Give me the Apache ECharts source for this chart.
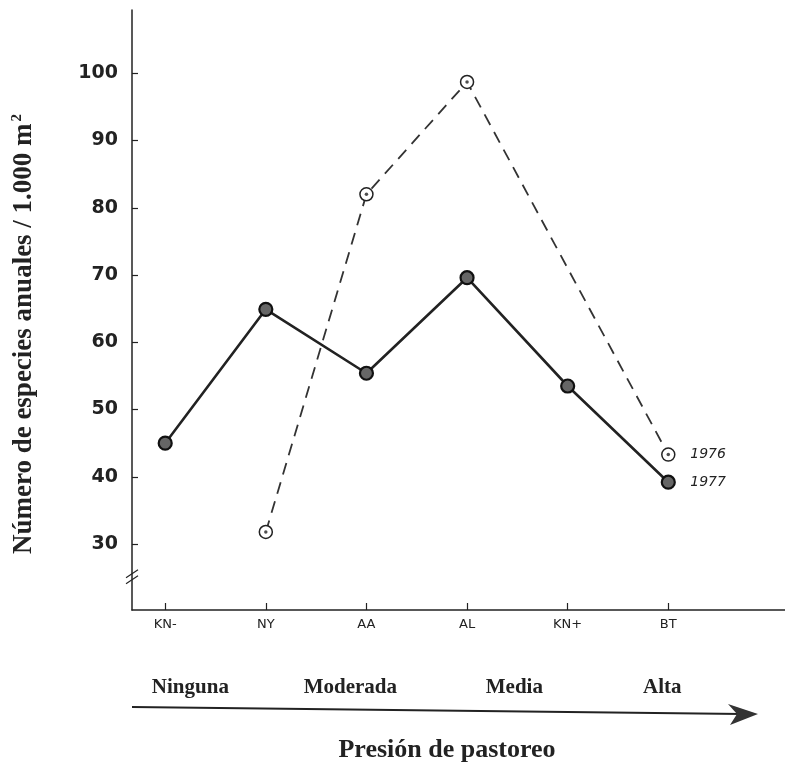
<!DOCTYPE html>
<html><head><meta charset="utf-8">
<script src="https://cdn.jsdelivr.net/npm/echarts@6/dist/echarts.min.js"></script>
<style>html,body{margin:0;padding:0;background:#fff}#c{width:785px;height:768px}</style>
</head><body><div id="c"></div>
<script>
var categories = ['KN-', 'NY', 'AA', 'AL', 'KN+', 'BT'];
var s1976 = [null, 31.8, 82.0, 98.7, null, 43.3];
var s1977 = [45.0, 64.9, 55.4, 69.6, 53.5, 39.2];
var pressureLabels = ['Ninguna', 'Moderada', 'Media', 'Alta'];
var pressurePos = [0.25, 1.84, 3.47, 4.94];
var yTicks = [30, 40, 50, 60, 70, 80, 90, 100];

function pts(arr){ return arr.map(function(v,i){ return [i, v]; }); }

var chart = echarts.init(document.getElementById('c'));
var ink = '#222';
var option = {
  backgroundColor: '#fff',
  animation: false,
  grid: {left: 132, top: 10, right: 0, bottom: 158},
  xAxis: {
    type: 'value', min: -0.33, max: 6.16,
    splitLine: {show: false},
    axisLine: {onZero: false, lineStyle: {color: ink, width: 1.5}},
    axisTick: {show: true, inside: true, length: 7, lineStyle: {color: ink, width: 1.2}, customValues: [0,1,2,3,4,5]},
    axisLabel: {customValues: [0,1,2,3,4,5], formatter: function(v){ return categories[Math.round(v)]; },
      color: ink, fontFamily: 'DejaVu Sans', fontSize: 13, margin: 8}
  },
  yAxis: {
    type: 'value', min: 20.2, max: 109.4,
    splitLine: {show: false},
    axisLine: {show: true, onZero: false, lineStyle: {color: ink, width: 1.5}},
    axisTick: {show: true, inside: true, length: 6, lineStyle: {color: ink, width: 1.2}, customValues: yTicks},
    axisLabel: {customValues: yTicks, color: ink, fontFamily: 'DejaVu Sans', fontWeight: 'bold', fontSize: 19, margin: 14}
  },
  series: [
    {
      name: '1976', type: 'line', data: pts(s1976), connectNulls: true,
      symbol: 'circle', symbolSize: 13,
      itemStyle: {color: '#fff', borderColor: ink, borderWidth: 1.5},
      lineStyle: {color: '#333', width: 1.8, type: [12, 8]},
      endLabel: {show: true, formatter: '{a}', distance: 22, color: ink, fontStyle: 'italic', fontFamily: 'DejaVu Sans', fontSize: 14},
      z: 2
    },
    {
      name: '1976c', type: 'scatter', data: pts(s1976).filter(function(p){return p[1]!=null;}),
      symbol: 'circle', symbolSize: 3.5, itemStyle: {color: ink}, z: 5, silent: true
    },
    {
      name: '1977', type: 'line', data: pts(s1977),
      symbol: 'circle', symbolSize: 13,
      itemStyle: {color: '#666', borderColor: '#111', borderWidth: 2.2},
      lineStyle: {color: ink, width: 2.6},
      endLabel: {show: true, formatter: '{a}', distance: 22, color: ink, fontStyle: 'italic', fontFamily: 'DejaVu Sans', fontSize: 14},
      z: 3
    }
  ]
};
chart.setOption(option);

var g = [];
// axis break mark
var bp = chart.convertToPixel({gridIndex: 0}, [-0.33, 25]);
[-4, 2].forEach(function(d){
  g.push({type: 'line', shape: {x1: bp[0]-6, y1: bp[1]+4+d, x2: bp[0]+6, y2: bp[1]-4+d}, style: {stroke: ink, lineWidth: 1.2}});
});
// y axis title
g.push({type: 'text', x: 24, y: 334, rotation: Math.PI/2,
  style: {text: 'Número de especies anuales / 1.000 m{sup|2}', align: 'center', verticalAlign: 'middle',
    font: 'bold 27px "Liberation Serif"', fill: ink,
    rich: {sup: {font: 'bold 15px "Liberation Serif"', verticalAlign: 'top', padding: [0,0,14,2]}}}});
// pressure labels
pressureLabels.forEach(function(t, i){
  var p = chart.convertToPixel({gridIndex: 0}, [pressurePos[i], 25]);
  g.push({type: 'text', x: p[0], y: 688, style: {text: t, align: 'center', verticalAlign: 'middle',
    font: 'bold 21px "Liberation Serif"', fill: ink}});
});
// arrow
g.push({type: 'polyline', shape: {points: [[132, 707], [742, 714]]}, style: {stroke: ink, lineWidth: 2.2}});
g.push({type: 'polygon', shape: {points: [[728, 704], [758, 714], [730, 725], [737, 714]]}, style: {fill: '#333'}});
// x title
g.push({type: 'text', x: 447, y: 750, style: {text: 'Presión de pastoreo', align: 'center', verticalAlign: 'middle',
  font: 'bold 26px "Liberation Serif"', fill: ink}});
chart.setOption({graphic: g});
</script>
</body></html>
